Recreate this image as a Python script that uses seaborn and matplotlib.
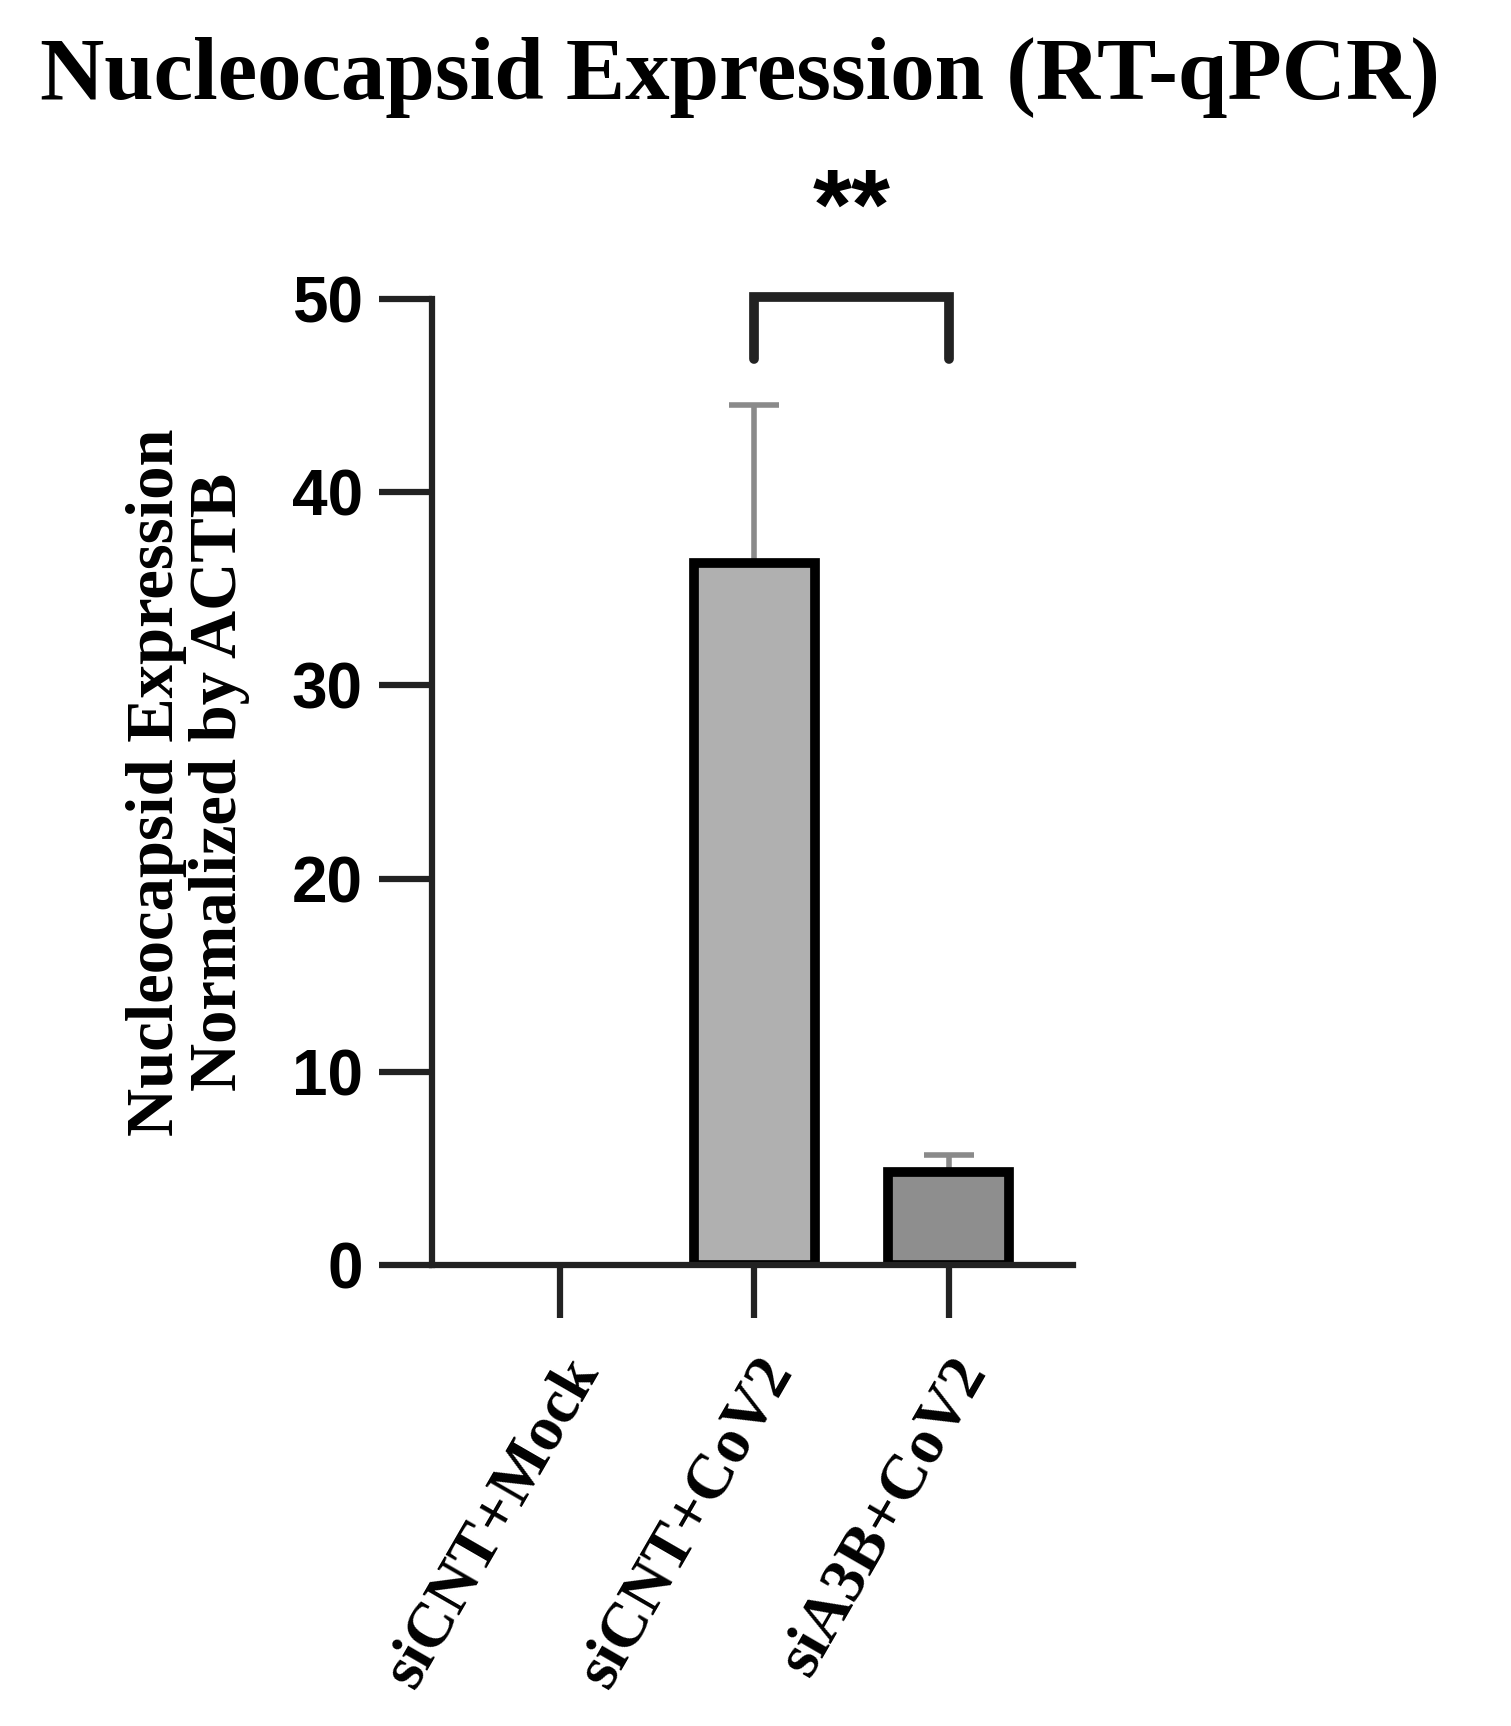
import matplotlib
matplotlib.use("Agg")
import matplotlib.pyplot as plt
import seaborn as sns
import pandas as pd

categories = ["siCNT+Mock", "siCNT+CoV2", "siA3B+CoV2"]
means = [0.0, 36.3, 4.8]
sd = [0.0, 8.2, 0.9]
colors = ["#b0b0b0", "#b0b0b0", "#8e8e8e"]

sns.set_style("white")
plt.rcParams["text.color"] = "black"
fig = plt.figure(figsize=(15.11, 17.26), dpi=100)
ax = fig.add_axes([0.286, 0.267, 0.424, 0.56])
df = pd.DataFrame({"cat": categories, "val": means})
sns.barplot(data=df, x="cat", y="val", hue="cat", palette=colors, legend=False,
            width=0.62, edgecolor="black", linewidth=7, ax=ax, errorbar=None)
for p, m in zip(ax.patches, means):
    if m == 0:
        p.set_visible(False)
for i, (m, s) in enumerate(zip(means, sd)):
    if s > 0:
        ax.errorbar(i, m, yerr=[[0], [s]], color="#8a8a8a", capsize=18, elinewidth=4,
                    capthick=4, zorder=0)
ax.set_xlim(-0.66, 2.64)
ax.set_ylim(0, 50)
ax.set_yticks([0, 10, 20, 30, 40, 50])
for sp in ["top", "right"]:
    ax.spines[sp].set_visible(False)
for sp in ["left", "bottom"]:
    ax.spines[sp].set_linewidth(4.5)
    ax.spines[sp].set_color("#222222")
ax.tick_params(axis="both", bottom=True, left=True, direction="out", length=38,
               width=4.5, color="#222222", pad=12, labelcolor="black")
ax.tick_params(axis="x", pad=22)
for t in ax.get_yticklabels():
    t.set_fontfamily("Liberation Sans"); t.set_fontweight("bold"); t.set_fontsize(46)
ax.set_xticks(range(3))
ax.set_xticklabels(categories, rotation=60, ha="right", rotation_mode="anchor",
                   fontfamily="Liberation Serif", fontweight="bold", fontsize=46)
ax.set_xlabel("")
ax.set_ylabel("Nucleocapsid Expression\nNormalized by ACTB", fontfamily="Liberation Serif",
              fontweight="bold", fontsize=48, labelpad=30, linespacing=1.05, color="black")
ax.plot([1, 1, 2, 2], [46.9, 50.1, 50.1, 46.9], color="#222222", lw=7, clip_on=False,
        solid_joinstyle="miter")
ax.text(1.5, 52.0, "**", ha="center", va="bottom", fontsize=72, fontweight="bold",
        fontfamily="Liberation Sans")
fig.text(0.49, 0.955, "Nucleocapsid Expression (RT-qPCR)", ha="center", va="center",
         fontfamily="Liberation Serif", fontweight="bold", fontsize=64)
fig.savefig("out.png", dpi=100)
